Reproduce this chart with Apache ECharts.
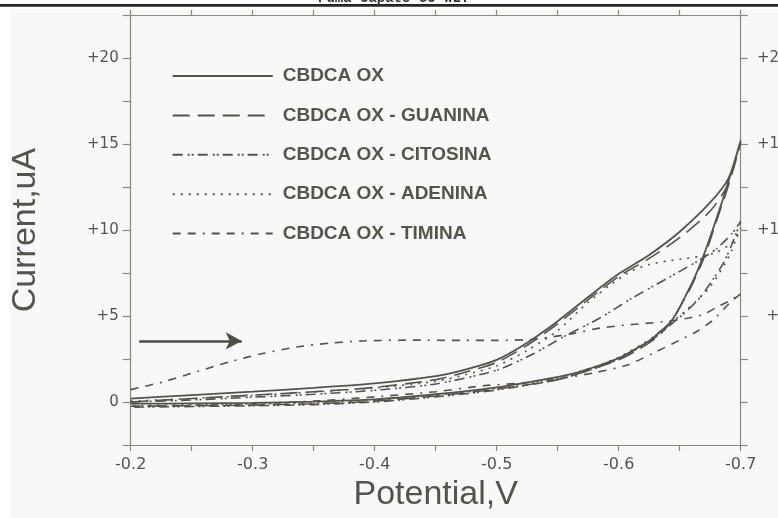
<!DOCTYPE html>
<html>
<head>
<meta charset="utf-8">
<script src="https://cdn.jsdelivr.net/npm/echarts@6/dist/echarts.min.js"></script>
<style>
html,body{margin:0;padding:0;background:#ffffff;}
#chart{width:778px;height:518px;}
</style>
</head>
<body>
<div id="chart"></div>
<script>
// ---- data (Potential V, Current uA) ----
const seriesNames = ['CBDCA OX', 'CBDCA OX - GUANINA', 'CBDCA OX - CITOSINA', 'CBDCA OX - ADENINA', 'CBDCA OX - TIMINA'];
const xTickLabels = ['-0.2', '-0.3', '-0.4', '-0.5', '-0.6', '-0.7'];
const yTickLabels = ['0', '+5', '+10', '+15', '+20'];

const cbdcaOx = [
  [-0.2,0.2],[-0.25,0.4],[-0.3,0.6],[-0.35,0.82],[-0.4,1.08],[-0.45,1.5],[-0.475,1.9],[-0.5,2.45],
  [-0.525,3.45],[-0.55,4.7],[-0.575,6.1],[-0.6,7.45],[-0.625,8.55],[-0.65,9.9],[-0.675,11.6],[-0.69,13.0],[-0.7,15.2],
  [-0.692,13.3],[-0.685,11.7],[-0.677,10.0],[-0.67,8.6],[-0.662,7.2],[-0.655,6.2],[-0.647,5.1],[-0.64,4.45],
  [-0.634,4.1],[-0.626,3.6],[-0.612,3.0],[-0.6,2.55],[-0.585,2.15],[-0.56,1.6],[-0.53,1.2],[-0.5,0.85],
  [-0.45,0.45],[-0.4,0.15],[-0.35,0.02],[-0.3,-0.05],[-0.25,-0.08],[-0.2,-0.1]
];
const guanina = [
  [-0.2,0.0],[-0.25,0.2],[-0.3,0.4],[-0.35,0.6],[-0.4,0.85],[-0.45,1.3],[-0.475,1.75],[-0.5,2.3],
  [-0.525,3.3],[-0.55,4.55],[-0.575,5.95],[-0.6,7.3],[-0.625,8.35],[-0.65,9.55],[-0.675,11.1],[-0.69,12.7],[-0.7,15.1],
  [-0.69,12.6],[-0.68,10.5],[-0.67,8.4],[-0.66,6.8],[-0.65,5.5],[-0.64,4.4],[-0.63,3.7],[-0.615,3.0],
  [-0.6,2.45],[-0.58,1.95],[-0.55,1.3],[-0.5,0.75],[-0.45,0.35],[-0.4,0.05],[-0.35,-0.1],[-0.3,-0.18],[-0.2,-0.25]
];
const citosina = [
  [-0.2,0.0],[-0.25,0.12],[-0.3,0.28],[-0.35,0.45],[-0.4,0.68],[-0.45,1.05],[-0.5,1.85],[-0.53,2.8],
  [-0.555,3.8],[-0.585,4.9],[-0.61,6.0],[-0.64,7.2],[-0.665,8.2],[-0.68,8.9],[-0.693,9.8],[-0.7,10.5],
  [-0.693,9.2],[-0.686,8.1],[-0.677,7.1],[-0.667,6.1],[-0.656,5.3],[-0.646,4.7],[-0.636,4.1],[-0.625,3.5],
  [-0.61,2.9],[-0.6,2.5],[-0.58,1.95],[-0.55,1.3],[-0.5,0.7],[-0.45,0.3],[-0.4,0.0],[-0.35,-0.15],[-0.3,-0.22],[-0.2,-0.3]
];
const adenina = [
  [-0.2,0.05],[-0.25,0.2],[-0.3,0.38],[-0.35,0.58],[-0.4,0.82],[-0.45,1.2],[-0.475,1.6],[-0.5,2.1],
  [-0.525,3.0],[-0.55,4.15],[-0.575,5.8],[-0.595,6.9],[-0.61,7.6],[-0.625,8.0],[-0.64,8.2],[-0.655,8.35],
  [-0.67,8.5],[-0.68,8.7],[-0.69,9.1],[-0.697,9.6],[-0.7,10.1],
  [-0.698,9.9],[-0.693,8.85],[-0.686,7.9],[-0.675,6.7],[-0.664,5.9],[-0.653,5.2],[-0.643,4.6],[-0.633,4.0],
  [-0.62,3.4],[-0.6,2.6],[-0.58,2.05],[-0.55,1.4],[-0.5,0.8],[-0.45,0.4],[-0.4,0.1],[-0.35,-0.05],[-0.3,-0.12],[-0.2,-0.2]
];
const timina = [
  [-0.2,0.72],[-0.227,1.18],[-0.254,1.76],[-0.281,2.34],[-0.309,2.83],[-0.336,3.2],[-0.363,3.42],[-0.39,3.55],
  [-0.43,3.6],[-0.47,3.58],[-0.5,3.58],[-0.53,3.65],[-0.56,3.95],[-0.585,4.3],[-0.61,4.5],[-0.635,4.65],
  [-0.655,4.85],[-0.67,5.1],[-0.68,5.5],[-0.69,5.85],[-0.7,6.3],
  [-0.691,5.75],[-0.677,4.75],[-0.664,4.1],[-0.65,3.6],[-0.628,2.83],[-0.607,2.15],[-0.58,1.7],[-0.555,1.4],
  [-0.52,1.1],[-0.49,0.95],[-0.45,0.6],[-0.4,0.3],[-0.35,0.05],[-0.3,-0.1],[-0.25,-0.2],[-0.2,-0.25]
];
// arrow annotation (direction of scan), in data units
const arrowFrom = [-0.207, 3.55];
const arrowTo = [-0.291, 3.55];

const seriesData = [cbdcaOx, guanina, citosina, adenina, timina];
const dashTypes = ['solid', [17, 8], [10, 5, 2, 2, 2, 4], [2, 6], [8, 7, 8, 7, 2, 7]];

const lineColor = '#55534a';
const axisColor = '#8c897d';
const textColor = '#55544c';
const labelFont = '"DejaVu Sans", "Liberation Sans", Arial, sans-serif';
const titleFont = '"Liberation Sans", Arial, sans-serif';

const chart = echarts.init(document.getElementById('chart'), null, {renderer: 'canvas'});

function yLabel(v) {
  const r = Math.round(v * 100) / 100;
  if (Math.abs(r % 5) > 1e-6) return '';
  const idx = Math.round(r / 5);
  return yTickLabels[idx] !== undefined ? yTickLabels[idx] : '';
}
function xLabel(v) {
  const r = Math.round(v * 1000) / 1000;
  const k = Math.round(-r * 10);
  if (Math.abs(-r * 10 - k) > 1e-6) return '';
  const idx = k - 2;
  return xTickLabels[idx] !== undefined ? xTickLabels[idx] : '';
}

const series = seriesNames.map((name, i) => ({
  name: name,
  type: 'line',
  data: seriesData[i],
  xAxisIndex: 0,
  yAxisIndex: 0,
  symbol: 'none',
  smooth: 0.25,
  clip: false,
  lineStyle: {color: lineColor, width: i === 0 ? 1.8 : 1.6, type: dashTypes[i]},
  itemStyle: {color: lineColor},
  z: 5
}));
series[0].markLine = {
  silent: true,
  symbol: ['none', 'arrow'],
  symbolSize: [13, 16],
  label: {show: false},
  lineStyle: {color: '#4f4d43', width: 2.6, type: 'solid'},
  data: [[{coord: arrowFrom}, {coord: arrowTo}]]
};

const option = {
  animation: false,
  backgroundColor: '#ffffff',
  graphic: [
    {type: 'rect', z: -10, shape: {x: 10, y: 9, width: 768, height: 509}, style: {fill: '#f8f8f8'}},
    {type: 'rect', z: 10, shape: {x: 0, y: 4, width: 778, height: 2.7}, style: {fill: '#262626'}},
    {type: 'text', z: 10, left: 318, top: -9, style: {text: 'Puma Capato GO WLT', font: 'bold 14px "Liberation Mono", "DejaVu Sans Mono", monospace', fill: '#333'}}
  ],
  grid: {left: 130.7, right: 37.3, top: 15, bottom: 73, containLabel: false, outerBoundsMode: 'none'},
  legend: {
    orient: 'vertical',
    left: 171.7,
    top: 66,
    padding: 0,
    itemWidth: 100,
    itemHeight: 20,
    itemGap: 19.4,
    data: seriesNames,
    itemStyle: {opacity: 0},
    textStyle: {fontFamily: titleFont, fontWeight: 'bold', fontSize: 19, color: '#57554a', lineHeight: 20, padding: [0, 0, 0, 5]}
  },
  xAxis: [
    {
      type: 'value', position: 'bottom', inverse: true, min: -0.7, max: -0.2, interval: 0.05,
      name: 'Potential,V', nameLocation: 'middle', nameGap: 26,
      nameTextStyle: {fontFamily: titleFont, fontSize: 34, color: textColor},
      axisLine: {show: true, onZero: false, lineStyle: {color: axisColor, width: 1.2}},
      axisTick: {show: true, inside: false, length: 6, lineStyle: {color: axisColor, width: 1.2}},
      axisLabel: {show: true, margin: 12, fontSize: 16, color: textColor, fontFamily: labelFont, formatter: xLabel, showMinLabel: true, showMaxLabel: true, hideOverlap: false},
      splitLine: {show: false}
    },
    {
      type: 'value', position: 'top', inverse: true, min: -0.7, max: -0.2, interval: 0.05,
      axisLine: {show: true, onZero: false, lineStyle: {color: axisColor, width: 1.2}},
      axisTick: {show: true, inside: false, length: 5, lineStyle: {color: axisColor, width: 1.2}},
      axisLabel: {show: false},
      splitLine: {show: false}
    }
  ],
  yAxis: [
    {
      type: 'value', position: 'left', min: -2.5, max: 22.5, interval: 2.5,
      name: 'Current,uA', nameLocation: 'middle', nameGap: 88, nameRotate: 90,
      nameTextStyle: {fontFamily: titleFont, fontSize: 34, color: textColor},
      axisLine: {show: true, onZero: false, lineStyle: {color: axisColor, width: 1.2}},
      axisTick: {show: true, inside: false, length: 8, lineStyle: {color: axisColor, width: 1.2}},
      axisLabel: {show: true, margin: 12, fontSize: 15, color: textColor, fontFamily: labelFont, formatter: yLabel},
      splitLine: {show: false}
    },
    {
      type: 'value', position: 'right', min: -2.5, max: 22.5, interval: 2.5,
      axisLine: {show: true, onZero: false, lineStyle: {color: axisColor, width: 1.2}},
      axisTick: {show: true, inside: false, length: 7, lineStyle: {color: axisColor, width: 1.2}},
      axisLabel: {show: true, margin: 48, align: 'right', fontSize: 15, color: textColor, fontFamily: labelFont, formatter: yLabel},
      splitLine: {show: false}
    }
  ],
  series: series
};
chart.setOption(option);
</script>
</body>
</html>
